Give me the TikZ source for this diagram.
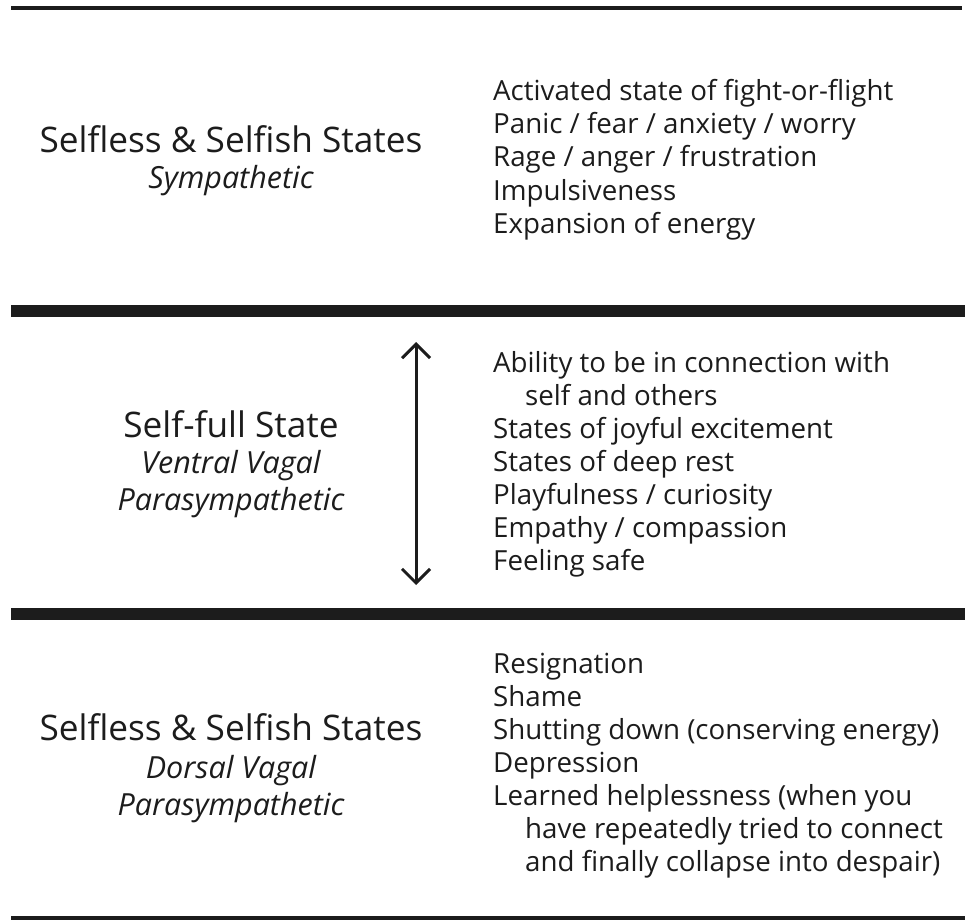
\documentclass[tikz,border=0pt]{standalone}
\usepackage{fontspec}
\setmainfont{Open Sans}
\usetikzlibrary{arrows.meta}
\definecolor{ink}{HTML}{1C1C1C}
\begin{document}
\begin{tikzpicture}[x=1pt,y=-1pt,
  rule/.style={draw=ink,line width=#1},
  title/.style={anchor=base,inner sep=0pt,text=ink,font=\fontsize{35.2}{35}\selectfont},
  sub/.style={anchor=base,inner sep=0pt,text=ink,font=\fontsize{30.5}{30}\selectfont\itshape},
  item/.style={anchor=base west,inner sep=0pt,text=ink,font=\fontsize{27.7}{33}\selectfont},
  cont/.style={item,xshift=32pt}]
\useasboundingbox (0,0) rectangle (965,920);
% rules
\coordinate (r1a) at (11,8);   \coordinate (r1b) at (962,8);
\coordinate (r2a) at (11,311); \coordinate (r2b) at (965,311);
\coordinate (r3a) at (11,614); \coordinate (r3b) at (965,614);
\coordinate (r4a) at (11,918); \coordinate (r4b) at (965,918);
\draw[rule=4pt] (r1a) -- (r1b);
\draw[rule=12pt] (r2a) -- (r2b);
\draw[rule=12pt] (r3a) -- (r3b);
\draw[rule=4pt] (r4a) -- (r4b);
% section 1
\node[title] (t1) at (231,153) {Selfless \& Selfish States};
\node[sub] (s1) at (231,188) {Sympathetic};
\node[item] (a1) at (493,101) {Activated state of fight-or-flight};
\node[item] (a2) at (493,134) {Panic / fear / anxiety / worry};
\node[item] (a3) at (493,167) {Rage / anger / frustration};
\node[item] (a4) at (493,200) {Impulsiveness};
\node[item] (a5) at (493,233) {Expansion of energy};
% section 2
\node[title] (t2) at (231,437) {Self-full State};
\node[sub] (s2a) at (231,473) {Ventral Vagal};
\node[sub] (s2b) at (231,510) {Parasympathetic};
\node[item] (b1) at (493,372) {Ability to be in connection with};
\node[cont] (b1c) at (493,405) {self and others};
\node[item] (b2) at (493,438) {States of joyful excitement};
\node[item] (b3) at (493,471) {States of deep rest};
\node[item] (b4) at (493,504) {Playfulness / curiosity};
\node[item] (b5) at (493,537) {Empathy / compassion};
\node[item] (b6) at (493,570) {Feeling safe};
\coordinate (up) at (416,342);
\coordinate (dn) at (416,585);
\draw[draw=ink,line width=3pt,
  {Straight Barb[length=14pt,width=28pt,line width=3pt]}-{Straight Barb[length=14pt,width=28pt,line width=3pt]}]
  (up) -- (dn);
% section 3
\node[title] (t3) at (231,740) {Selfless \& Selfish States};
\node[sub] (s3a) at (231,778) {Dorsal Vagal};
\node[sub] (s3b) at (231,815) {Parasympathetic};
\node[item] (c1) at (493,673) {Resignation};
\node[item] (c2) at (493,706) {Shame};
\node[item] (c3) at (493,739) {Shutting down (conserving energy)};
\node[item] (c4) at (493,772) {Depression};
\node[item] (c5) at (493,805) {Learned helplessness (when you};
\node[cont] (c5c) at (493,838) {have repeatedly tried to connect};
\node[cont] (c5d) at (493,871) {and finally collapse into despair)};
\end{tikzpicture}
\end{document}
